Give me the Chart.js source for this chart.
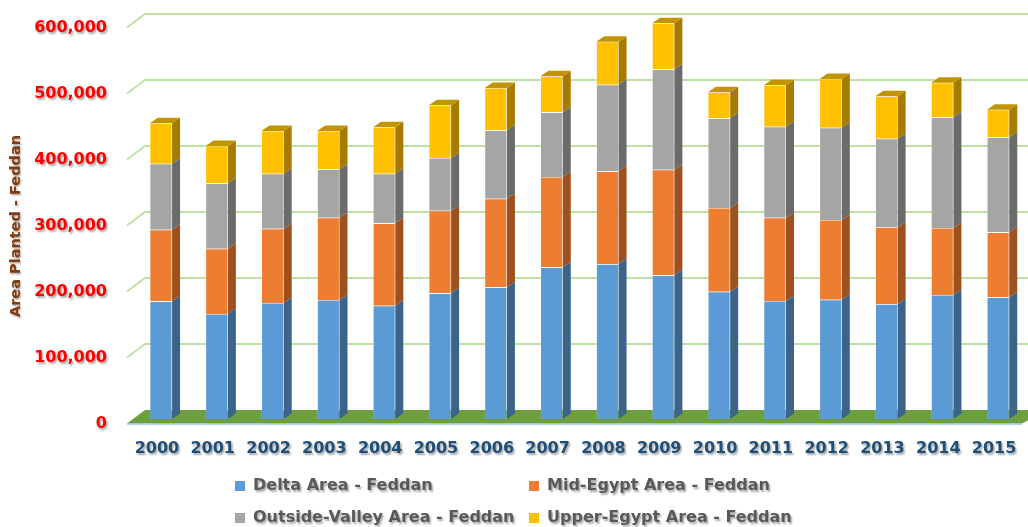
<!DOCTYPE html>
<html>
<head>
<meta charset="utf-8">
<title>Area Planted - Feddan</title>
<script src="https://cdn.jsdelivr.net/npm/chart.js@4.4.1/dist/chart.umd.min.js"></script>
<style>
  html, body { margin: 0; padding: 0; background: #ffffff; }
  #chartWrap { width: 1028px; height: 527px; }
</style>
</head>
<body>
<div id="chartWrap"><canvas id="areaChart" width="1028" height="527"></canvas></div>
<script>
// ================================================
// Area planted by region (stacked 3D-style columns)
// ================================================

const years = ['2000', '2001', '2002', '2003', '2004', '2005', '2006', '2007',
  '2008', '2009', '2010', '2011', '2012', '2013', '2014', '2015'];

const deltaArea = [178300, 159100, 175800, 180300, 171700, 190400, 199500, 229800,
  234800, 217700, 192900, 178800, 180800, 174200, 187900, 184400];
const midEgyptArea = [108500, 98900, 112500, 124700, 124800, 125200, 134300, 136900,
  140500, 160100, 126800, 126200, 120700, 116300, 101500, 98500];
const outsideValleyArea = [100000, 99100, 83400, 73300, 75200, 79900, 103600, 98000,
  131200, 152000, 135900, 137900, 139900, 134200, 167700, 143900];
const upperEgyptArea = [61200, 56500, 64700, 58100, 70200, 79800, 64100, 54500,
  65200, 69700, 39400, 62700, 73800, 64200, 52500, 41800];

const seriesLabels = ['Delta Area - Feddan', 'Mid-Egypt Area - Feddan',
  'Outside-Valley Area - Feddan', 'Upper-Egypt Area - Feddan'];
const yTicks = [0, 100000, 200000, 300000, 400000, 500000, 600000];

// face colours: front / side / top
const faceColors = [
  { front: '#5B9BD5', side: '#3C6489', top: '#4A80B2' },
  { front: '#ED7D31', side: '#9C511F', top: '#C4662A' },
  { front: '#A5A5A5', side: '#6B6B6B', top: '#8A8A8A' },
  { front: '#FFC000', side: '#A67C00', top: '#C29400' }
];

// depth offsets for the fake 3D look
const BAR_DX = 8, BAR_DY = -5.5;      // bar side / top face
const WALL_BACK = { dx: 12, dy: -9 }; // back wall relative to bar plane
const WALL_FRONT = { dx: -6, dy: 4.5 }; // front edge relative to bar plane

const FONT = '"DejaVu Sans", Verdana, sans-serif';

function withShadow(ctx, fn) {
  ctx.save();
  ctx.shadowColor = 'rgba(0,0,0,0.35)';
  ctx.shadowOffsetX = 1.5;
  ctx.shadowOffsetY = 1.5;
  ctx.shadowBlur = 2;
  fn();
  ctx.restore();
}

// gridlines + floor, drawn behind the bars
const wallsPlugin = {
  id: 'walls',
  beforeDatasetsDraw(chart) {
    const { ctx, chartArea, scales } = chart;
    const y = scales.y;
    const left = chartArea.left;

    ctx.save();
    // floor
    const y0 = y.getPixelForValue(0);
    ctx.fillStyle = '#6E9F3F';
    ctx.beginPath();
    ctx.moveTo(left + WALL_FRONT.dx, y0 + WALL_FRONT.dy);
    ctx.lineTo(left + WALL_BACK.dx, y0 + WALL_BACK.dy);
    ctx.lineTo(chart.width + 20, y0 + WALL_BACK.dy);
    ctx.lineTo(chartArea.right - 4, y0 + WALL_FRONT.dy);
    ctx.closePath();
    ctx.fill();
    ctx.strokeStyle = '#9DC3E6';
    ctx.lineWidth = 1.5;
    ctx.beginPath();
    ctx.moveTo(left + WALL_FRONT.dx, y0 + WALL_FRONT.dy + 0.5);
    ctx.lineTo(chartArea.right - 4, y0 + WALL_FRONT.dy + 0.5);
    ctx.stroke();

    // gridlines
    ctx.strokeStyle = '#BFE1A3';
    ctx.lineWidth = 2;
    yTicks.forEach(v => {
      if (v === 0) return;
      const py = y.getPixelForValue(v);
      ctx.beginPath();
      ctx.moveTo(left + WALL_FRONT.dx, py + WALL_FRONT.dy);
      ctx.lineTo(left + WALL_BACK.dx, py + WALL_BACK.dy);
      ctx.lineTo(chart.width, py + WALL_BACK.dy);
      ctx.stroke();
    });
    ctx.restore();
  },

  // side and top faces of the bars
  afterDatasetsDraw(chart) {
    const { ctx } = chart;
    const n = chart.data.datasets.length;
    ctx.save();
    chart.data.datasets.forEach((ds, di) => {
      const meta = chart.getDatasetMeta(di);
      meta.data.forEach(bar => {
        const half = bar.width / 2;
        const r = bar.x + half;
        const top = Math.min(bar.y, bar.base);
        const bottom = Math.max(bar.y, bar.base);
        ctx.fillStyle = faceColors[di].side;
        ctx.beginPath();
        ctx.moveTo(r, bottom);
        ctx.lineTo(r, top);
        ctx.lineTo(r + BAR_DX, top + BAR_DY);
        ctx.lineTo(r + BAR_DX, bottom + BAR_DY);
        ctx.closePath();
        ctx.fill();
        if (di === n - 1) {
          ctx.fillStyle = faceColors[di].top;
          ctx.beginPath();
          ctx.moveTo(bar.x - half, top);
          ctx.lineTo(bar.x - half + BAR_DX, top + BAR_DY);
          ctx.lineTo(r + BAR_DX, top + BAR_DY);
          ctx.lineTo(r, top);
          ctx.closePath();
          ctx.fill();
        }
      });
    });
    ctx.restore();
  },

  // axis labels, title and legend with soft shadows
  afterDraw(chart) {
    const { ctx, scales } = chart;

    // y tick labels
    withShadow(ctx, () => {
      ctx.font = 'bold 16px ' + FONT;
      ctx.fillStyle = '#FF0000';
      ctx.textAlign = 'right';
      ctx.textBaseline = 'middle';
      yTicks.forEach(v => {
        ctx.fillText(v.toLocaleString('en-US'), 107, scales.y.getPixelForValue(v) + 5);
      });
    });

    // x tick labels
    withShadow(ctx, () => {
      ctx.font = 'bold 16px ' + FONT;
      ctx.fillStyle = '#1F4E79';
      ctx.textAlign = 'center';
      ctx.textBaseline = 'middle';
      years.forEach((yr, i) => {
        ctx.fillText(yr, scales.x.getPixelForValue(i) - 4, 449);
      });
    });

    // y axis title
    withShadow(ctx, () => {
      ctx.translate(16, 226);
      ctx.rotate(-Math.PI / 2);
      ctx.font = 'bold 14.5px ' + FONT;
      ctx.fillStyle = '#843C0C';
      ctx.textAlign = 'center';
      ctx.textBaseline = 'middle';
      ctx.fillText('Area Planted - Feddan', 0, 0);
    });

    // legend, two columns
    const cols = [235, 529];
    const rows = [486, 518];
    chart.data.datasets.forEach((ds, i) => {
      const bx = cols[i % 2];
      const by = rows[Math.floor(i / 2)];
      ctx.fillStyle = ds.backgroundColor;
      ctx.fillRect(bx, by - 5, 10, 10);
      withShadow(ctx, () => {
        ctx.font = 'bold 16px ' + FONT;
        ctx.fillStyle = '#595959';
        ctx.textAlign = 'left';
        ctx.textBaseline = 'middle';
        ctx.fillText(ds.label, bx + 18, by);
      });
    });
  }
};

const seriesData = [deltaArea, midEgyptArea, outsideValleyArea, upperEgyptArea];

new Chart(document.getElementById('areaChart'), {
  type: 'bar',
  data: {
    labels: years,
    datasets: seriesData.map((d, i) => ({
      label: seriesLabels[i],
      data: d,
      backgroundColor: faceColors[i].front,
      borderColor: 'rgba(255,255,255,0.35)',
      borderWidth: 0.6,
      barPercentage: 0.4,
      categoryPercentage: 1
    }))
  },
  options: {
    responsive: false,
    animation: false,
    layout: { padding: { left: 133, right: 2, top: 23, bottom: 108 } },
    plugins: {
      legend: { display: false },
      tooltip: { enabled: false }
    },
    scales: {
      x: { stacked: true, display: false },
      y: { stacked: true, display: false, min: 0, max: 600000 }
    }
  },
  plugins: [wallsPlugin]
});
</script>
</body>
</html>
